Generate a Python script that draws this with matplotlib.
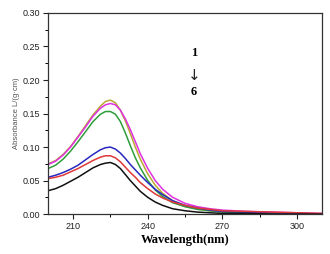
import matplotlib
matplotlib.use("Agg")
import matplotlib.pyplot as plt
from matplotlib.ticker import MultipleLocator

# wavelength grid (nm) and absorbance curves 1..6
wl = [200, 203, 206, 209, 212, 215, 218, 221, 223, 225, 227, 229, 231, 233,
      235, 237, 240, 243, 246, 250, 255, 260, 265, 270, 280, 290, 300, 310]

a1 = [0.075, 0.080, 0.089, 0.101, 0.116, 0.132, 0.148, 0.161, 0.168, 0.170,
      0.166, 0.155, 0.139, 0.120, 0.100, 0.082, 0.060, 0.043, 0.031, 0.020,
      0.012, 0.008, 0.005, 0.004, 0.002, 0.001, 0.001, 0.000]
a2 = [0.074, 0.079, 0.088, 0.100, 0.115, 0.130, 0.146, 0.158, 0.163, 0.165,
      0.163, 0.155, 0.142, 0.126, 0.108, 0.090, 0.068, 0.050, 0.037, 0.025,
      0.016, 0.011, 0.008, 0.006, 0.004, 0.003, 0.002, 0.001]
a3 = [0.068, 0.073, 0.082, 0.094, 0.108, 0.123, 0.138, 0.149, 0.153, 0.153,
      0.149, 0.138, 0.121, 0.102, 0.084, 0.069, 0.050, 0.036, 0.026, 0.017,
      0.011, 0.007, 0.005, 0.003, 0.002, 0.001, 0.001, 0.000]
a4 = [0.055, 0.058, 0.062, 0.067, 0.073, 0.081, 0.089, 0.096, 0.099, 0.100,
      0.097, 0.091, 0.083, 0.074, 0.066, 0.058, 0.047, 0.037, 0.029, 0.020,
      0.013, 0.009, 0.006, 0.004, 0.003, 0.002, 0.001, 0.000]
a5 = [0.053, 0.055, 0.058, 0.063, 0.068, 0.074, 0.080, 0.085, 0.087, 0.087,
      0.084, 0.078, 0.070, 0.062, 0.055, 0.047, 0.038, 0.030, 0.024, 0.018,
      0.013, 0.009, 0.007, 0.005, 0.004, 0.003, 0.002, 0.001]
a6 = [0.035, 0.038, 0.043, 0.049, 0.055, 0.062, 0.069, 0.074, 0.076, 0.077,
      0.074, 0.068, 0.059, 0.050, 0.042, 0.034, 0.025, 0.018, 0.013, 0.008,
      0.005, 0.003, 0.002, 0.001, 0.001, 0.000, 0.000, 0.000]

series = [a1, a2, a3, a4, a5, a6]
colors = ["#b8a832", "#e030e0", "#2e9e3a", "#2828c0", "#e03838", "#111111"]

fig = plt.figure(figsize=(3.30, 2.54), dpi=100)
ax = fig.add_axes([0.146, 0.157, 0.830, 0.792])

for ys, c in zip(series, colors):
    ax.plot(wl, ys, color=c, lw=1.1)

ax.set_xlim(200, 310)
ax.set_ylim(0, 0.30)
ax.xaxis.set_major_locator(MultipleLocator(30))
ax.xaxis.set_minor_locator(MultipleLocator(15))
ax.yaxis.set_major_locator(MultipleLocator(0.05))
ax.yaxis.set_minor_locator(MultipleLocator(0.025))
ax.set_xticks([210, 240, 270, 300])
ax.tick_params(which="major", direction="out", length=3.5, width=0.8,
               labelsize=6.5, colors="#222222", pad=2)
ax.tick_params(which="minor", direction="out", length=2, width=0.7)
ax.yaxis.set_major_formatter(matplotlib.ticker.FormatStrFormatter("%.2f"))
for lab in ax.get_xticklabels() + ax.get_yticklabels():
    lab.set_family("Liberation Sans")
for s in ax.spines.values():
    s.set_linewidth(0.9)
    s.set_color("#333333")

ax.set_xlabel("Wavelength(nm)", family="Liberation Serif", fontweight="bold",
              fontsize=9, labelpad=2)
ax.set_ylabel("Absorbance L/(g·cm)", family="Liberation Sans", fontsize=5.5,
              color="#555555", labelpad=2)

tfont = dict(family=["Liberation Serif", "DejaVu Serif"], fontweight="bold",
             fontsize=9, ha="center", va="center")
ax.text(258.5, 0.240, "1", **tfont)
ax.text(258.5, 0.206, "↓", family="DejaVu Sans", fontsize=11,
        ha="center", va="center", color="#222222")
ax.text(258.5, 0.182, "6", **tfont)

fig.savefig("out.png", dpi=100)
